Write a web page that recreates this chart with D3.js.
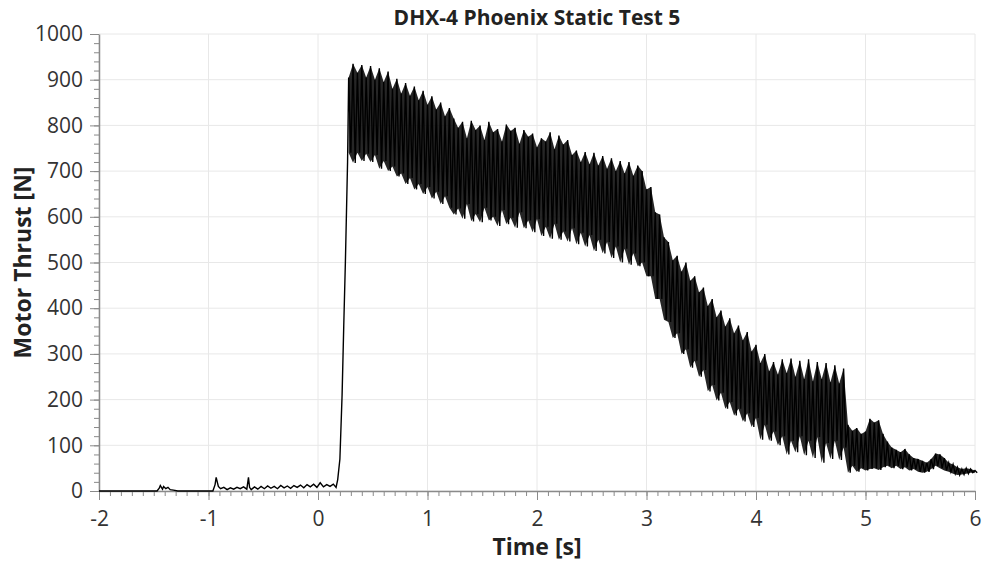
<!DOCTYPE html>
<html>
<head>
<meta charset="utf-8">
<title>DHX-4 Phoenix Static Test 5</title>
<script src="https://d3js.org/d3.v7.min.js"></script>
<style>
body{
	margin: 0;
	background: #fff;
	font-family: "Open Sans", sans-serif;
}
</style>
</head>
<body>
<div id="chart"></div>

<script>

// tick labels
var xTicks = [-2, -1, 0, 1, 2, 3, 4, 5, 6];
var yTicks = [0, 100, 200, 300, 400, 500, 600, 700, 800, 900, 1000];

// before and during ignition : time [s] and thrust [N]
var preTime = [-2, -1.47, -1.45, -1.44, -1.42, -1.41, -1.39, -1.37, -1.35, -1.32,
	-1.28, -0.96, -0.94, -0.93, -0.91, -0.89, -0.86, -0.83, -0.80, -0.77,
	-0.74, -0.71, -0.68, -0.65, -0.635, -0.625, -0.61, -0.58, -0.55, -0.52,
	-0.49, -0.46, -0.43, -0.40, -0.37, -0.34, -0.31, -0.28, -0.25, -0.22,
	-0.19, -0.16, -0.13, -0.10, -0.07, -0.04, -0.01, 0.02, 0.05, 0.08,
	0.11, 0.14, 0.165, 0.18, 0.20, 0.22, 0.235, 0.25, 0.26, 0.27];
var preThrust = [0, 0, 6, 12, 4, 10, 5, 8, 3, 2,
	0, 0, 14, 30, 10, 5, 8, 3, 7, 4,
	8, 5, 9, 4, 30, 8, 3, 9, 4, 10,
	5, 11, 6, 10, 5, 12, 7, 11, 6, 12,
	8, 13, 7, 14, 9, 15, 8, 18, 9, 14,
	10, 15, 8, 25, 70, 210, 360, 500, 610, 720];

// burn phase : thrust oscillates, peaks and troughs sampled every 0.04 s from 0.28 s
var burnStart = 0.28;
var burnStep = 0.04;
var burnHigh = [905, 935, 915, 932, 905, 930, 900, 925, 895, 918,
	880, 902, 870, 893, 865, 885, 855, 876, 845, 864,
	835, 850, 820, 838, 815, 795, 808, 772, 810, 790,
	800, 768, 808, 785, 792, 765, 802, 788, 795, 760,
	790, 775, 782, 752, 772, 765, 785, 748, 778, 758,
	768, 735, 745, 720, 742, 715, 740, 712, 733, 705,
	728, 700, 722, 695, 720, 690, 712, 700, 660, 665,
	610, 605, 555, 545, 505, 515, 480, 500, 460, 470,
	435, 445, 405, 420, 380, 395, 360, 378, 345, 362,
	330, 348, 305, 320, 280, 300, 262, 282, 255, 288,
	258, 290, 250, 285, 245, 288, 240, 282, 245, 280,
	238, 275, 235, 268, 145, 132, 138, 125, 130, 158,
	150, 155, 125, 108, 95, 90, 85, 92, 80, 72,
	70, 66, 62, 70, 82, 80, 72, 62, 58, 52,
	48, 50, 48, 45];
var burnLow = [740, 718, 740, 722, 738, 720, 735, 705, 722, 700,
	710, 688, 695, 672, 685, 660, 672, 650, 665, 640,
	655, 628, 645, 620, 605, 618, 596, 628, 590, 606,
	588, 620, 592, 600, 580, 615, 584, 598, 576, 610,
	575, 592, 566, 595, 558, 578, 552, 585, 550, 568,
	546, 575, 540, 565, 535, 560, 525, 550, 520, 545,
	510, 535, 500, 530, 495, 520, 492, 500, 470, 470,
	420, 420, 375, 370, 335, 345, 300, 310, 270, 285,
	250, 265, 218, 232, 198, 215, 180, 195, 165, 180,
	152, 170, 140, 160, 112, 145, 110, 130, 100, 120,
	80, 110, 85, 120, 78, 110, 72, 118, 62, 105,
	70, 110, 68, 95, 40, 55, 42, 50, 45, 48,
	50, 46, 52, 55, 50, 55, 48, 52, 45, 48,
	42, 40, 42, 48, 55, 50, 45, 42, 38, 35,
	36, 38, 40, 40];

// build the signal points
var points = preTime.map((t, i) => [t, preThrust[i]]);
var band = [];
burnHigh.forEach((v, i) => {
	var t = burnStart + i * burnStep;
	points.push([t, v]);
	points.push([t + burnStep / 2, burnLow[i]]);
	band.push({t: t, hi: v, lo: burnLow[i]});
});

var width = 984, height = 563;
var margin = {top: 34, right: 9, bottom: 72, left: 99};

var svg = d3.select("#chart")
	.append("svg")
	.attr("width", width)
	.attr("height", height);

var x = d3.scaleLinear().domain([-2, 6]).range([margin.left, width - margin.right]);
var y = d3.scaleLinear().domain([0, 1000]).range([height - margin.bottom, margin.top]);

// grid
svg.append("g")
	.selectAll("line")
	.data(xTicks)
	.join("line")
	.attr("x1", d => x(d)).attr("x2", d => x(d))
	.attr("y1", y(0)).attr("y2", y(1000))
	.attr("stroke", "#e8e8e8");
svg.append("g")
	.selectAll("line")
	.data(yTicks)
	.join("line")
	.attr("x1", x(-2)).attr("x2", x(6))
	.attr("y1", d => y(d)).attr("y2", d => y(d))
	.attr("stroke", "#e8e8e8");

// minor ticks
svg.append("g")
	.attr("transform", `translate(0,${y(0)})`)
	.call(d3.axisBottom(x).tickValues(d3.range(-20, 61).map(d => d / 10)).tickSize(5).tickFormat(""))
	.call(g => g.select(".domain").remove())
	.selectAll("line").attr("stroke", "#8a8a8a");
svg.append("g")
	.attr("transform", `translate(${x(-2)},0)`)
	.call(d3.axisLeft(y).tickValues(d3.range(0, 1001, 20)).tickSize(5).tickFormat(""))
	.call(g => g.select(".domain").remove())
	.selectAll("line").attr("stroke", "#8a8a8a");

// major axes
var xAxis = svg.append("g")
	.attr("transform", `translate(0,${y(0)})`)
	.call(d3.axisBottom(x).tickValues(xTicks).tickSize(9).tickPadding(11).tickSizeOuter(0)
		.tickFormat(d => String(d)));
var yAxis = svg.append("g")
	.attr("transform", `translate(${x(-2)},0)`)
	.call(d3.axisLeft(y).tickValues(yTicks).tickSize(9).tickPadding(7).tickSizeOuter(0)
		.tickFormat(d => String(d)));

[xAxis, yAxis].forEach(a => {
	a.select(".domain").attr("stroke", "#8a8a8a").attr("stroke-width", 1.5);
	a.selectAll(".tick line").attr("stroke", "#8a8a8a");
	a.selectAll("text")
		.attr("font-family", "'Open Sans', sans-serif")
		.attr("font-size", 21)
		.attr("fill", "#333");
});

// signal : shaded core of the oscillation, then the trace itself
svg.append("path")
	.datum(band)
	.attr("fill", "#000")
	.attr("fill-opacity", 0.85)
	.attr("d", d3.area().x(d => x(d.t)).y0(d => y(d.lo)).y1(d => y(d.hi)));

svg.append("path")
	.datum(points)
	.attr("fill", "none")
	.attr("stroke", "#000")
	.attr("stroke-width", 1.4)
	.attr("d", d3.line().x(d => x(d[0])).y(d => y(d[1])));

// titles
svg.append("text")
	.attr("x", (x(-2) + x(6)) / 2)
	.attr("y", 25)
	.attr("text-anchor", "middle")
	.attr("font-weight", "bold")
	.attr("font-size", 21)
	.attr("fill", "#222")
	.text("DHX-4 Phoenix Static Test 5");

svg.append("text")
	.attr("x", (x(-2) + x(6)) / 2)
	.attr("y", 555)
	.attr("text-anchor", "middle")
	.attr("font-weight", "bold")
	.attr("font-size", 23)
	.attr("fill", "#222")
	.text("Time [s]");

svg.append("text")
	.attr("transform", `translate(31,${(y(0) + y(1000)) / 2}) rotate(-90)`)
	.attr("text-anchor", "middle")
	.attr("font-weight", "bold")
	.attr("font-size", 23)
	.attr("fill", "#222")
	.text("Motor Thrust [N]");

</script>
</body>
</html>
